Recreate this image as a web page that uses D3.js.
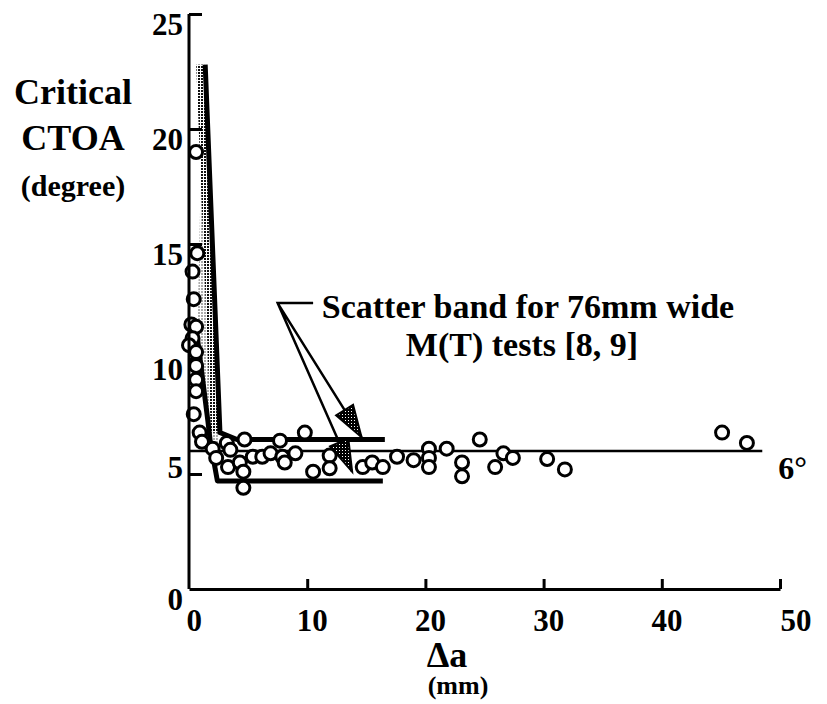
<!DOCTYPE html>
<html>
<head>
<meta charset="utf-8">
<script src="https://cdn.jsdelivr.net/npm/d3@7"></script>
<style>
  body { margin: 0; background: #fff; }
  svg text { font-family: "Liberation Serif", "DejaVu Serif", serif; font-weight: bold; fill: #000; }
  .axis path, .axis line { stroke: #000; stroke-width: 3; }
</style>
</head>
<body>
<script>
// crack extension (mm) and measured critical CTOA (degree)
var deltaA = [0.6, 0.7, 0.3, 0.4, 0.2, 0.6, 0.3, 0.0, 0.6, 0.6, 0.6, 0.6, 0.4, 0.9, 1.1,
              2.0, 2.3, 3.2, 3.5, 4.7, 3.3, 4.3, 4.6, 4.6, 5.4, 6.2, 6.9, 7.7, 7.9, 8.1, 9.0, 9.8,
              10.5, 11.9, 11.9, 14.7, 15.5, 16.4, 17.6, 19.0, 20.3, 20.3, 20.3, 21.8, 23.1, 23.1,
              24.6, 25.9, 26.6, 27.4, 30.3, 31.8, 45.1, 47.2];
var ctoa   = [19.0, 14.6, 13.8, 12.6, 11.5, 11.4, 10.9, 10.6, 10.3, 9.7, 9.1, 8.6, 7.6, 6.8, 6.4,
              6.1, 5.7, 6.35, 6.05, 6.5, 5.3, 5.5, 5.1, 4.4, 5.75, 5.75, 5.9, 6.45, 5.75, 5.5, 5.9, 6.8,
              5.1, 5.8, 5.25, 5.3, 5.5, 5.3, 5.75, 5.6, 6.1, 5.7, 5.3, 6.1, 5.5, 4.9,
              6.5, 5.3, 5.9, 5.7, 5.65, 5.2, 6.8, 6.35];

// scatter band for 76mm wide M(T) tests
var bandUpper = [[1.2, 22.8], [2.45, 6.8], [3.9, 6.5], [16.4, 6.5]];
var bandLower = [[0.7, 10.96], [1.6, 7.3], [1.8, 6.4], [2.4, 4.7], [16.4, 4.7]];

var xTicks = [0, 10, 20, 30, 40, 50];
var yTicks = [0, 5, 10, 15, 20, 25];
var ctoaLevel = 6;
var levelEnd = 48.5;

var width = 827, height = 704;
var serif = "'Liberation Serif', 'DejaVu Serif', serif";

var svg = d3.select("body")
  .append("svg")
    .attr("width", width)
    .attr("height", height);

var defs = svg.append("defs");
var pat = defs.append("pattern")
    .attr("id", "stipple")
    .attr("width", 3).attr("height", 3)
    .attr("patternUnits", "userSpaceOnUse");
pat.append("rect").attr("width", 3).attr("height", 3).attr("fill", "#fff");
pat.append("rect").attr("width", 2).attr("height", 2).attr("fill", "#111");

var dark = defs.append("pattern")
    .attr("id", "stippleDark")
    .attr("width", 3).attr("height", 3)
    .attr("patternUnits", "userSpaceOnUse");
dark.append("rect").attr("width", 3).attr("height", 3).attr("fill", "#000");
dark.append("rect").attr("width", 1).attr("height", 1).attr("fill", "#fff");

//Scales
var xScale = d3.scaleLinear().domain([0, 50]).range([189, 780]);
var yScale = d3.scaleLinear().domain([0, 25]).range([589, 14]);

var line = d3.line()
  .x(function(d) { return xScale(d[0]); })
  .y(function(d) { return yScale(d[1]); });

//Band fill between the two boundaries (steep part)
var steepPoly = bandUpper.slice(0, 2).concat(bandLower.slice(0, 4).reverse());
svg.append("path")
  .attr("d", line(steepPoly) + "Z")
  .attr("fill", "url(#stipple)")
  .attr("opacity", 0.35);

//Upper boundary: stippled strip with a black edge
svg.append("path")
  .attr("d", line(bandUpper.slice(0, 2)))
  .attr("fill", "none")
  .attr("stroke", "url(#stipple)")
  .attr("stroke-width", 8)
  .attr("transform", "translate(-3,0)");
svg.append("path")
  .attr("d", line(bandUpper))
  .attr("fill", "none")
  .attr("stroke", "#000")
  .attr("stroke-width", 5)
  .attr("transform", "translate(2,0)");

//Lower boundary
svg.append("path")
  .attr("d", line(bandLower))
  .attr("fill", "none")
  .attr("stroke", "#000")
  .attr("stroke-width", 5)
  .attr("stroke-linejoin", "round");

//6 degree line
svg.append("line")
  .attr("x1", xScale(0)).attr("x2", xScale(levelEnd))
  .attr("y1", yScale(ctoaLevel)).attr("y2", yScale(ctoaLevel))
  .attr("stroke", "#000")
  .attr("stroke-width", 2.5);

svg.append("text")
  .attr("x", xScale(levelEnd) + 16)
  .attr("y", yScale(ctoaLevel) + 28)
  .style("font-family", serif)
  .style("font-size", "32px")
  .text("6°");

//Data points
svg.selectAll(".pt")
  .data(deltaA)
  .enter()
  .append("circle")
    .attr("class", "pt")
    .attr("cx", function(d) { return xScale(d); })
    .attr("cy", function(d, i) { return yScale(ctoa[i]); })
    .attr("r", 6.5)
    .attr("fill", "#fff")
    .attr("stroke", "#000")
    .attr("stroke-width", 3);

//Axes
var x_axis = d3.axisBottom(xScale)
  .tickValues(xTicks)
  .tickSizeInner(-10)
  .tickSizeOuter(0)
  .tickPadding(20);

var gx = svg.append("g")
  .attr("class", "axis")
  .attr("transform", "translate(0," + yScale(0) + ")")
  .call(x_axis);
gx.selectAll(".tick line").filter(function(d) { return d === 0; }).remove();
gx.selectAll("text")
  .style("font-family", serif)
  .style("font-size", "31px")
  .attr("dx", function(d) { return d === 50 ? "0.5em" : "0.15em"; });

var y_axis = d3.axisLeft(yScale)
  .tickValues(yTicks)
  .tickSizeInner(-13)
  .tickSizeOuter(0)
  .tickPadding(6);

var gy = svg.append("g")
  .attr("class", "axis")
  .attr("transform", "translate(" + xScale(0) + ",0)")
  .call(y_axis);
gy.selectAll(".tick line").filter(function(d) { return d === 0; }).remove();
gy.selectAll("text")
  .style("font-family", serif)
  .style("font-size", "31px")
  .attr("dy", function(d) { return d === 5 ? "0.1em" : "0.65em"; });
gy.select(".domain").attr("d", "M0," + yScale(0) + "V" + yScale(25));

//Axis titles
var yTitle = svg.append("g").attr("transform", "translate(73,0)");
yTitle.append("text").attr("y", 104).attr("text-anchor", "middle")
  .style("font-family", serif).style("font-size", "36px").text("Critical");
yTitle.append("text").attr("y", 150).attr("text-anchor", "middle")
  .style("font-family", serif).style("font-size", "36px").text("CTOA");
yTitle.append("text").attr("y", 196).attr("text-anchor", "middle")
  .style("font-family", serif).style("font-size", "30px").text("(degree)");

svg.append("text")
  .attr("x", 447).attr("y", 667)
  .attr("text-anchor", "middle")
  .style("font-family", serif)
  .style("font-size", "36px")
  .text("Δa");
svg.append("text")
  .attr("x", 458).attr("y", 694)
  .attr("text-anchor", "middle")
  .style("font-family", serif)
  .style("font-size", "26px")
  .text("(mm)");

//Annotation
svg.append("text")
  .attr("x", 528).attr("y", 318)
  .attr("text-anchor", "middle")
  .style("font-family", serif)
  .style("font-size", "34px")
  .text("Scatter band for 76mm wide");
svg.append("text")
  .attr("x", 522).attr("y", 356)
  .attr("text-anchor", "middle")
  .style("font-family", serif)
  .style("font-size", "34px")
  .text("M(T) tests [8, 9]");

var corner = [7.5, 12.43], bracketEnd = [10.5, 12.43];
var tips = [[13.8, 5.1], [14.6, 6.6]];

svg.append("path")
  .attr("d", line([bracketEnd, corner, tips[0]]) + line([corner, tips[1]]))
  .attr("fill", "none")
  .attr("stroke", "#000")
  .attr("stroke-width", 2.5);

tips.forEach(function(t) {
  var x1 = xScale(corner[0]), y1 = yScale(corner[1]);
  var x2 = xScale(t[0]), y2 = yScale(t[1]);
  var a = Math.atan2(y2 - y1, x2 - x1);
  var len = 32, half = 10;
  var bx = x2 - len * Math.cos(a), by = y2 - len * Math.sin(a);
  var pts = [[x2, y2],
             [bx + half * Math.sin(a), by - half * Math.cos(a)],
             [bx - half * Math.sin(a), by + half * Math.cos(a)]];
  svg.append("path")
    .attr("d", "M" + pts.join("L") + "Z")
    .attr("fill", "url(#stippleDark)")
    .attr("stroke", "#000")
    .attr("stroke-width", 2);
});
</script>
</body>
</html>
